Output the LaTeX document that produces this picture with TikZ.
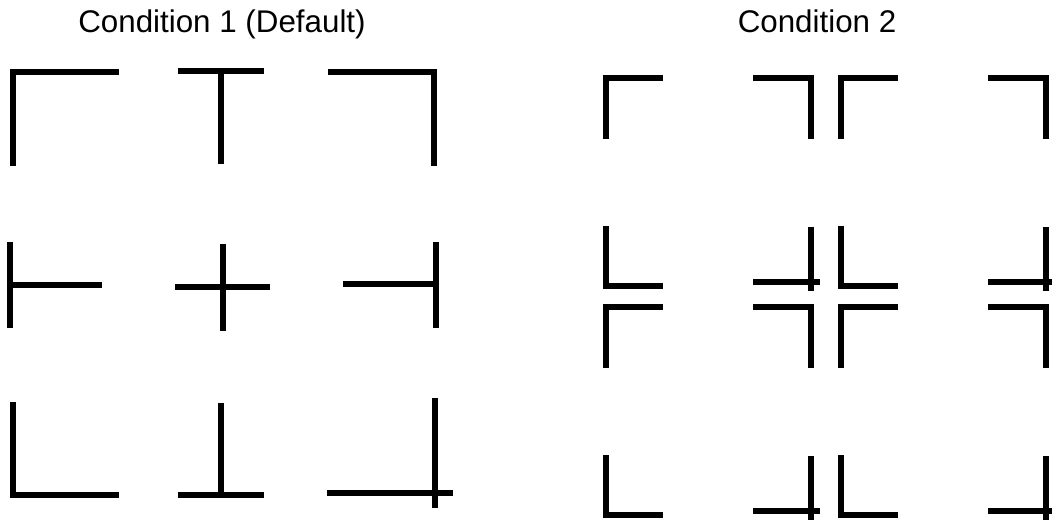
\documentclass[tikz,border=0pt]{standalone}
\usepackage{fontspec}
\setmainfont{Liberation Sans}
\usepackage{tikz}
\usetikzlibrary{positioning}
\tikzset{
  gtitle/.style={inner sep=0pt, anchor=base, font=\fontsize{23.5}{28}\selectfont},
  gbar/.style={draw=black, line width=5pt, line cap=butt, line join=miter},
  gthin/.style={draw=black, line width=4pt, line cap=butt, line join=miter},
}

\begin{document}
\begin{tikzpicture}[x=0.75pt,y=-0.75pt]

  \useasboundingbox (0,0) rectangle (1052,523);
  \clip (0,0) rectangle (1052,523);

  \node[gtitle] (cond1) at (222,33) {Condition 1 (Default)};
  \node[gtitle] (cond2) at (817,33) {Condition 2};

  % condition 1: corners, tees and a cross
  \draw[gbar] (119,72) -- (13,72) -- (13,166);
  \draw[gbar] (178,71) -- (264,71);
  \draw[gbar] (221,71) -- (221,164);
  \draw[gbar] (328,72) -- (434,72) -- (434,166);

  \draw[gbar] (10,242) -- (10,328);
  \draw[gbar] (10,285) -- (102,285);
  \draw[gbar] (175,287) -- (270,287);
  \draw[gbar] (223,244) -- (223,331);
  \draw[gbar] (436,242) -- (436,328);
  \draw[gbar] (343,284) -- (436,284);

  \draw[gbar] (13,402) -- (13,495) -- (119,495);
  \draw[gbar] (178,495) -- (264,495);
  \draw[gbar] (221,403) -- (221,495);
  \draw[gbar] (327,493) -- (453,493);
  \draw[gbar] (435,398) -- (435,508);

  % condition 2: four squares made of corners
  \foreach \dx/\dy in {0/0, 235/0, 0/229, 235/229} {
    \begin{scope}[shift={(\dx,\dy)}]
      \draw[gthin] (663,78) -- (606,78) -- (606,139);
      \draw[gthin] (753,78) -- (811,78) -- (811,139);
      \draw[gthin] (606,226) -- (606,286) -- (663,286);
      \draw[gthin] (753,282) -- (820,282);
      \draw[gthin] (811,227) -- (811,291);
    \end{scope}
  }

\end{tikzpicture}
\end{document}
